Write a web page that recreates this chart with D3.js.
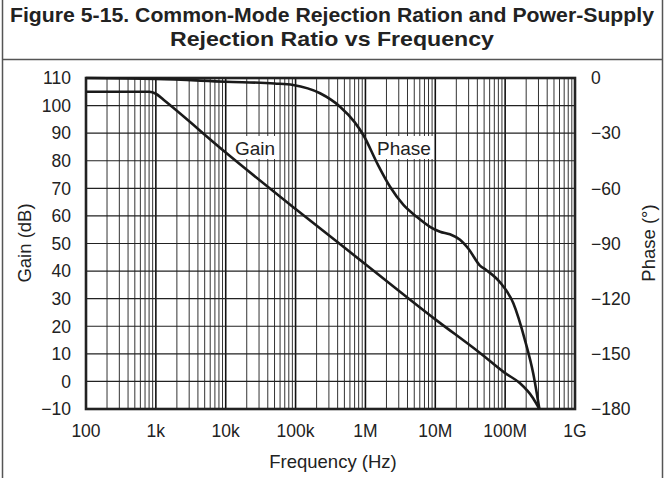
<!DOCTYPE html>
<html>
<head>
<meta charset="utf-8">
<script src="https://cdn.jsdelivr.net/npm/d3@7"></script>
<style>
  body { margin: 0; background: #fff; }
  svg { display: block; font-family: "Liberation Sans", Arial, sans-serif; }
</style>
</head>
<body>
<svg id="chart" width="665" height="478"></svg>
<script>
// values
const gainFreq = [100, 800, 1000, 1300, 10e3, 100e3, 1e6, 10e6, 43.7e6, 100e6, 162e6, 250e6, 309e6];
const gainDb   = [105, 105, 104.3, 102, 83, 62.5, 42.5, 22.5, 10.3, 3, -0.6, -6, -10];

const phaseFreq = [100, 1e3, 10e3, 50e3, 92e3, 224e3, 433e3, 700e3, 933e3, 1.5e6, 2.24e6, 3.5e6, 5.4e6, 8.4e6, 11.7e6, 16.2e6, 22.6e6, 30e6, 43.6e6, 54e6, 84e6, 131e6, 192e6, 252e6, 309e6];
const phaseDeg  = [0, -0.5, -2, -3, -3.8, -8.3, -15.6, -24, -31, -47, -59, -69, -75.4, -80.9, -83.6, -85, -88, -93, -102, -104.5, -111, -122.5, -142.5, -160.6, -180];

const freqTicks  = [100, 1e3, 1e4, 1e5, 1e6, 1e7, 1e8, 1e9];
const freqLabels = ["100", "1k", "10k", "100k", "1M", "10M", "100M", "1G"];
const gainTicks  = [110, 100, 90, 80, 70, 60, 50, 40, 30, 20, 10, 0, -10];
const phaseTicks = [0, -30, -60, -90, -120, -150, -180];

const svg = d3.select("#chart");
const m = { left: 86, right: 575, top: 78, bottom: 409 };

const x = d3.scaleLog().domain([100, 1e9]).range([m.left, m.right]);
const yG = d3.scaleLinear().domain([-10, 110]).range([m.bottom, m.top]);
const yP = d3.scaleLinear().domain([-180, 0]).range([m.bottom, m.top]);

// frame of the figure
svg.append("line").attr("x1", 2.5).attr("x2", 2.5).attr("y1", 0).attr("y2", 478).attr("stroke", "#555").attr("stroke-width", 1.5);
svg.append("line").attr("x1", 662.5).attr("x2", 662.5).attr("y1", 0).attr("y2", 478).attr("stroke", "#555").attr("stroke-width", 1.5);
svg.append("line").attr("x1", 2).attr("x2", 663).attr("y1", 59.5).attr("y2", 59.5).attr("stroke", "#555").attr("stroke-width", 1.5);

const title = svg.append("text").attr("text-anchor", "middle").attr("font-weight", "bold")
  .attr("font-size", 20.5).attr("fill", "#222");
title.append("tspan").attr("x", 332).attr("y", 21.5)
  .attr("textLength", 644).attr("lengthAdjust", "spacingAndGlyphs")
  .text("Figure 5-15. Common-Mode Rejection Ration and Power-Supply");
title.append("tspan").attr("x", 332).attr("y", 46)
  .attr("textLength", 324).attr("lengthAdjust", "spacingAndGlyphs")
  .text("Rejection Ratio vs Frequency");

// grid
const minor = [];
for (let d = 100; d < 1e9; d *= 10) for (let k = 1; k < 10; k++) minor.push(d * k);
minor.push(1e9);

svg.append("g").selectAll("line").data(minor).join("line")
  .attr("x1", d => x(d)).attr("x2", d => x(d))
  .attr("y1", m.top).attr("y2", m.bottom)
  .attr("stroke", d => freqTicks.includes(d) ? "#111" : "#333")
  .attr("stroke-width", d => freqTicks.includes(d) ? 1.6 : 1);

svg.append("g").selectAll("line").data(gainTicks).join("line")
  .attr("x1", m.left).attr("x2", m.right)
  .attr("y1", d => yG(d)).attr("y2", d => yG(d))
  .attr("stroke", "#222").attr("stroke-width", 1.2);

svg.append("rect").attr("x", m.left).attr("y", m.top)
  .attr("width", m.right - m.left).attr("height", m.bottom - m.top)
  .attr("fill", "none").attr("stroke", "#222").attr("stroke-width", 2.6);

// in-plot labels with white boxes (under the curves)
function tag(cx, cy, w, h, txt) {
  svg.append("rect").attr("x", cx - w / 2).attr("y", cy - h / 2).attr("width", w).attr("height", h).attr("fill", "#fff");
  svg.append("text").attr("x", cx).attr("y", cy + 7).attr("text-anchor", "middle")
    .attr("font-size", 19).attr("fill", "#222").text(txt);
}
tag(255, 147.5, 48, 23, "Gain");
tag(404, 147.5, 60, 23, "Phase");

// curves
const gainLine = d3.line().x(d => x(d[0])).y(d => yG(d[1])).curve(d3.curveMonotoneX);
const phaseLine = d3.line().x(d => x(d[0])).y(d => yP(d[1])).curve(d3.curveMonotoneX);

svg.append("path").datum(d3.zip(gainFreq, gainDb)).attr("d", gainLine)
  .attr("fill", "none").attr("stroke", "#1a1a1a").attr("stroke-width", 2.6);
svg.append("path").datum(d3.zip(phaseFreq, phaseDeg)).attr("d", phaseLine)
  .attr("fill", "none").attr("stroke", "#1a1a1a").attr("stroke-width", 2.6);

// axes labels
const tickFont = 17.5;
const minus = d => d < 0 ? "\u2212" + Math.abs(d) : String(d);

svg.append("g").selectAll("text").data(gainTicks).join("text")
  .attr("x", 71).attr("y", d => yG(d) + 6.3).attr("text-anchor", "end")
  .attr("font-size", tickFont).attr("fill", "#222").text(minus);

svg.append("g").selectAll("text").data(phaseTicks).join("text")
  .attr("x", 591).attr("y", d => yP(d) + 6.3).attr("text-anchor", "start")
  .attr("font-size", tickFont).attr("fill", "#222").text(minus);

svg.append("g").selectAll("text").data(freqTicks).join("text")
  .attr("x", d => x(d)).attr("y", 437).attr("text-anchor", "middle")
  .attr("font-size", tickFont).attr("fill", "#222")
  .text((d, i) => freqLabels[i]);

svg.append("text").attr("x", 333).attr("y", 468).attr("text-anchor", "middle")
  .attr("font-size", 18.5).attr("fill", "#222").text("Frequency (Hz)");

svg.append("text").attr("transform", "translate(31,243) rotate(-90)").attr("text-anchor", "middle")
  .attr("font-size", 18.5).attr("fill", "#222").text("Gain (dB)");

svg.append("text").attr("transform", "translate(655,243) rotate(-90)").attr("text-anchor", "middle")
  .attr("font-size", 18.5).attr("fill", "#222").text("Phase (\u00b0)");
</script>
</body>
</html>
